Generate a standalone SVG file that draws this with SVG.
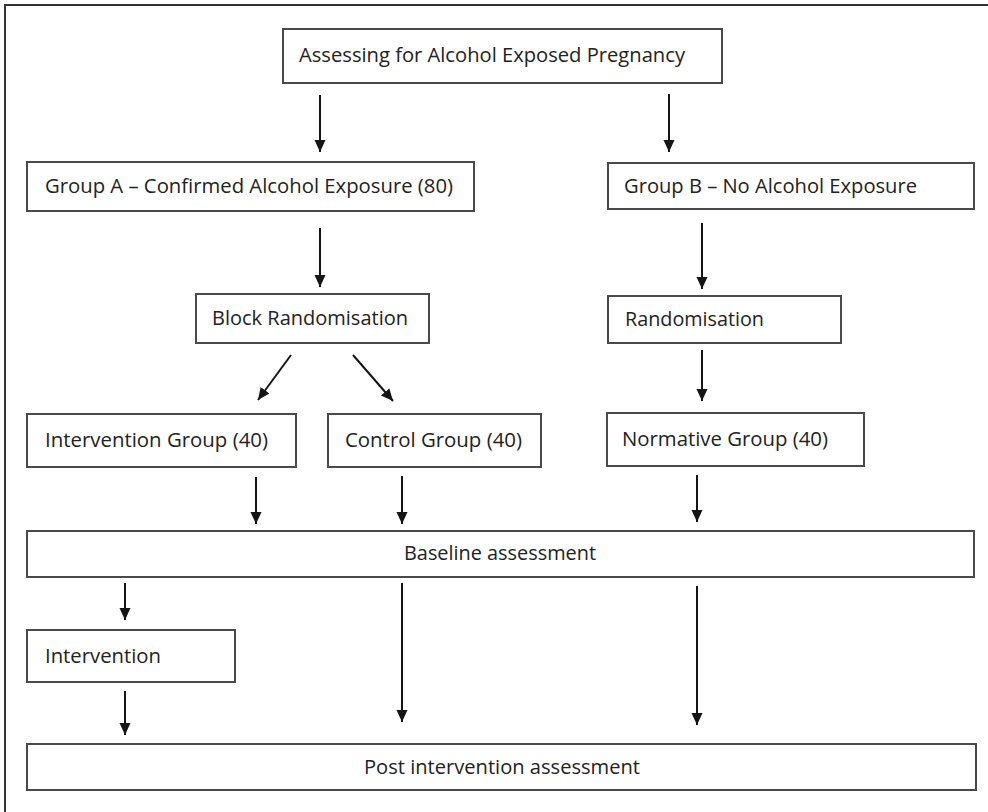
<svg xmlns="http://www.w3.org/2000/svg" width="988" height="812" viewBox="0 0 988 812">
<style>
.box{fill:#fff;stroke:#4a4a4a;stroke-width:2}
.lbl{font-family:"Open Sans","Liberation Sans",sans-serif;font-size:20.5px;fill:#222}
.arr{stroke:#151515;stroke-width:2;fill:none;marker-end:url(#ah)}
</style>
<defs>
<marker id="ah" markerUnits="userSpaceOnUse" markerWidth="12" markerHeight="12" viewBox="0 0 12 12" refX="12" refY="6" orient="auto">
<path d="M0,0.5 L12,6 L0,11.5 z" fill="#151515"/>
</marker>
</defs>
<rect x="0" y="0" width="988" height="812" fill="#fff"/>
<path d="M5,812 V5 H988" fill="none" stroke="#333" stroke-width="2"/>
<g id="n-assess"><rect class="box" x="283" y="29" width="439" height="54"/><text class="lbl" x="299" y="62" textLength="386" lengthAdjust="spacingAndGlyphs">Assessing for Alcohol Exposed Pregnancy</text></g>
<g id="n-groupA"><rect class="box" x="27" y="162" width="447" height="49"/><text class="lbl" x="45" y="193" textLength="408" lengthAdjust="spacingAndGlyphs">Group A – Confirmed Alcohol Exposure (80)</text></g>
<g id="n-groupB"><rect class="box" x="608" y="163" width="366" height="46"/><text class="lbl" x="624" y="193" textLength="293" lengthAdjust="spacingAndGlyphs">Group B – No Alcohol Exposure</text></g>
<g id="n-block"><rect class="box" x="196" y="294" width="233" height="49"/><text class="lbl" x="212" y="325" textLength="196" lengthAdjust="spacingAndGlyphs">Block Randomisation</text></g>
<g id="n-rand"><rect class="box" x="608" y="296" width="233" height="47"/><text class="lbl" x="625" y="326" textLength="139" lengthAdjust="spacingAndGlyphs">Randomisation</text></g>
<g id="n-intgroup"><rect class="box" x="27" y="414" width="269" height="53"/><text class="lbl" x="45" y="447" textLength="223" lengthAdjust="spacingAndGlyphs">Intervention Group (40)</text></g>
<g id="n-control"><rect class="box" x="328" y="414" width="213" height="53"/><text class="lbl" x="345" y="447" textLength="177" lengthAdjust="spacingAndGlyphs">Control Group (40)</text></g>
<g id="n-normative"><rect class="box" x="607" y="413" width="257" height="53"/><text class="lbl" x="622" y="446" textLength="206" lengthAdjust="spacingAndGlyphs">Normative Group (40)</text></g>
<g id="n-baseline"><rect class="box" x="27" y="531" width="947" height="46"/><text class="lbl" x="404" y="560" textLength="192" lengthAdjust="spacingAndGlyphs">Baseline assessment</text></g>
<g id="n-intervention"><rect class="box" x="27" y="630" width="208" height="52"/><text class="lbl" x="45" y="663" textLength="116" lengthAdjust="spacingAndGlyphs">Intervention</text></g>
<g id="n-post"><rect class="box" x="27" y="744" width="949" height="46"/><text class="lbl" x="364" y="774" textLength="276" lengthAdjust="spacingAndGlyphs">Post intervention assessment</text></g>
<g id="connectors">
<line class="arr" x1="320" y1="95" x2="320" y2="152"/>
<line class="arr" x1="669" y1="94" x2="669" y2="152"/>
<line class="arr" x1="320" y1="228" x2="320" y2="287"/>
<line class="arr" x1="702" y1="223" x2="702" y2="289"/>
<line class="arr" x1="291" y1="355" x2="258" y2="400"/>
<line class="arr" x1="353" y1="355" x2="393" y2="401"/>
<line class="arr" x1="702" y1="350" x2="702" y2="401"/>
<line class="arr" x1="256" y1="477" x2="256" y2="524"/>
<line class="arr" x1="402" y1="476" x2="402" y2="524"/>
<line class="arr" x1="697" y1="475" x2="697" y2="522"/>
<line class="arr" x1="125" y1="583" x2="125" y2="620"/>
<line class="arr" x1="125" y1="691" x2="125" y2="735"/>
<line class="arr" x1="402" y1="583" x2="402" y2="722"/>
<line class="arr" x1="697" y1="586" x2="697" y2="725"/>
</g>
</svg>
